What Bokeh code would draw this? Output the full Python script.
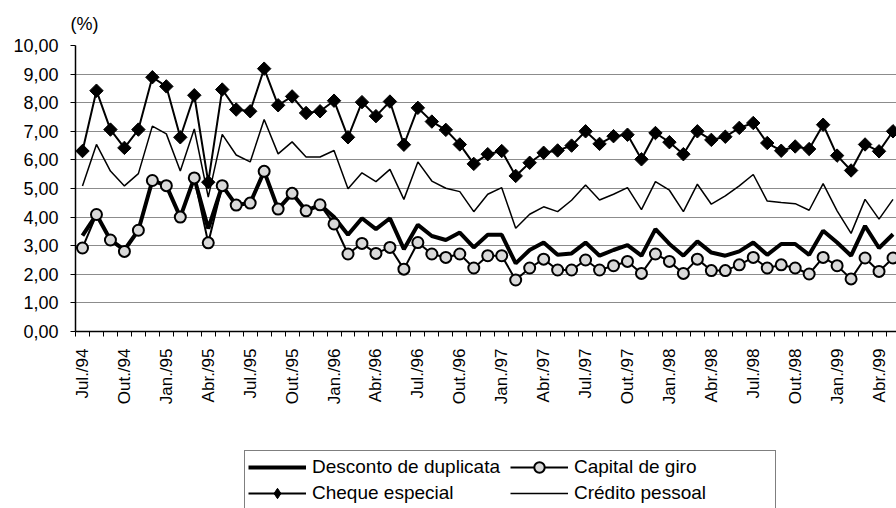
import numpy as np
from bokeh.plotting import figure
from bokeh.layouts import column
from bokeh.models import FixedTicker, Legend, LegendItem, Range1d, Title
from bokeh.embed import file_html
from bokeh.resources import INLINE

months = [
    "Jul./94", "Ago./94", "Set./94", "Out./94", "Nov./94", "Dez./94",
    "Jan./95", "Fev./95", "Mar./95", "Abr./95", "Mai./95", "Jun./95",
    "Jul./95", "Ago./95", "Set./95", "Out./95", "Nov./95", "Dez./95",
    "Jan./96", "Fev./96", "Mar./96", "Abr./96", "Mai./96", "Jun./96",
    "Jul./96", "Ago./96", "Set./96", "Out./96", "Nov./96", "Dez./96",
    "Jan./97", "Fev./97", "Mar./97", "Abr./97", "Mai./97", "Jun./97",
    "Jul./97", "Ago./97", "Set./97", "Out./97", "Nov./97", "Dez./97",
    "Jan./98", "Fev./98", "Mar./98", "Abr./98", "Mai./98", "Jun./98",
    "Jul./98", "Ago./98", "Set./98", "Out./98", "Nov./98", "Dez./98",
    "Jan./99", "Fev./99", "Mar./99", "Abr./99", "Mai./99",
]

x_tick_labels = ["Jul./94", "Out./94", "Jan./95", "Abr./95", "Jul./95", "Out./95",
                 "Jan./96", "Abr./96", "Jul./96", "Out./96", "Jan./97", "Abr./97",
                 "Jul./97", "Out./97", "Jan./98", "Abr./98", "Jul./98", "Out./98",
                 "Jan./99", "Abr./99"]

y_ticks = [0, 1, 2, 3, 4, 5, 6, 7, 8, 9, 10]
y_tick_labels = ["0,00", "1,00", "2,00", "3,00", "4,00", "5,00",
                 "6,00", "7,00", "8,00", "9,00", "10,00"]

desconto = [3.35, 4.09, 3.20, 2.85, 3.54, 5.28, 5.10, 4.00, 5.37, 3.60,
            5.10, 4.42, 4.49, 5.60, 4.28, 4.83, 4.22, 4.43, 4.00, 3.38,
            3.96, 3.58, 3.96, 2.88, 3.73, 3.34, 3.20, 3.46, 2.94, 3.38,
            3.38, 2.38, 2.85, 3.11, 2.68, 2.73, 3.11, 2.65, 2.85, 3.02,
            2.65, 3.58, 3.06, 2.65, 3.15, 2.76, 2.65, 2.80, 3.11, 2.68,
            3.06, 3.06, 2.68, 3.52, 3.11, 2.65, 3.69, 2.92, 3.40]

capital = [2.92, 4.09, 3.20, 2.80, 3.54, 5.28, 5.10, 4.00, 5.37, 3.10,
           5.10, 4.42, 4.49, 5.60, 4.28, 4.83, 4.22, 4.43, 3.76, 2.71,
           3.08, 2.73, 2.94, 2.18, 3.11, 2.71, 2.59, 2.71, 2.22, 2.65,
           2.65, 1.80, 2.22, 2.53, 2.15, 2.15, 2.50, 2.15, 2.30, 2.45,
           2.03, 2.71, 2.45, 2.03, 2.53, 2.13, 2.13, 2.33, 2.59, 2.22,
           2.33, 2.22, 2.01, 2.59, 2.30, 1.84, 2.57, 2.10, 2.57]

cheque = [6.31, 8.42, 7.06, 6.42, 7.06, 8.89, 8.57, 6.79, 8.26, 5.22,
          8.46, 7.76, 7.70, 9.19, 7.91, 8.22, 7.64, 7.70, 8.07, 6.79,
          8.02, 7.53, 8.04, 6.53, 7.82, 7.34, 7.05, 6.54, 5.86, 6.20,
          6.31, 5.44, 5.90, 6.25, 6.33, 6.50, 7.00, 6.56, 6.83, 6.88,
          6.02, 6.94, 6.62, 6.20, 7.00, 6.70, 6.81, 7.12, 7.29, 6.59,
          6.32, 6.47, 6.38, 7.23, 6.15, 5.63, 6.54, 6.30, 7.00]

credito = [5.09, 6.54, 5.61, 5.09, 5.52, 7.18, 6.91, 5.61, 7.08, 4.70,
           6.89, 6.17, 5.93, 7.41, 6.21, 6.63, 6.10, 6.10, 6.33, 4.99,
           5.55, 5.24, 5.67, 4.62, 5.93, 5.26, 5.01, 4.89, 4.19, 4.80,
           5.03, 3.61, 4.10, 4.36, 4.19, 4.59, 5.12, 4.60, 4.80, 5.03,
           4.26, 5.24, 4.94, 4.19, 5.15, 4.45, 4.74, 5.09, 5.49, 4.56,
           4.51, 4.47, 4.24, 5.17, 4.22, 3.43, 4.62, 3.93, 4.62]

series_names = ["Desconto de duplicata", "Cheque especial",
                "Capital de giro", "Crédito pessoal"]

FONT = "Liberation Sans"

x = list(range(len(months)))
tick_idx = [months.index(t) for t in x_tick_labels]

# ---------------- main chart ----------------
p = figure(width=896, height=440, output_backend="svg", toolbar_location=None,
           x_range=Range1d(-0.5, 58.25), y_range=Range1d(0, 10),
           min_border_left=75, min_border_right=0, min_border_top=44,
           min_border_bottom=109)
p.background_fill_color = "white"
p.border_fill_color = "white"
p.outline_line_color = None

p.title = Title(text="(%)", text_font=FONT, text_font_size="18px",
                text_font_style="normal", text_color="black", align="left",
                offset=-5, standoff=23)

p.yaxis.ticker = FixedTicker(ticks=y_ticks)
p.yaxis.major_label_overrides = {t: l for t, l in zip(y_ticks, y_tick_labels)}
p.yaxis.major_label_text_font = FONT
p.yaxis.major_label_text_font_size = "18px"
p.yaxis.major_label_text_color = "black"
p.yaxis.axis_line_color = "black"
p.yaxis.axis_line_width = 1.5
p.yaxis.major_tick_out = 5
p.yaxis.major_tick_in = 0
p.yaxis.major_tick_line_color = "black"
p.yaxis.minor_tick_line_color = None
p.yaxis.major_label_standoff = 12

p.xaxis.ticker = FixedTicker(ticks=tick_idx,
                             minor_ticks=[i - 0.5 for i in range(len(months) + 1)])
p.xaxis.major_label_overrides = {i: months[i] for i in tick_idx}
p.xaxis.major_label_orientation = np.pi / 2
p.xaxis.major_label_text_font = FONT
p.xaxis.major_label_text_font_size = "17px"
p.xaxis.major_label_text_color = "black"
p.xaxis.axis_line_color = "black"
p.xaxis.axis_line_width = 1.5
p.xaxis.major_tick_out = 0
p.xaxis.major_tick_in = 0
p.xaxis.minor_tick_out = 5
p.xaxis.minor_tick_in = 0
p.xaxis.minor_tick_line_color = "black"
p.xaxis.major_label_standoff = 12

p.xgrid.grid_line_color = None
p.ygrid.grid_line_color = "#8c8c8c"
p.ygrid.grid_line_width = 1

p.line(x, credito, line_color="black", line_width=1.5)
p.line(x, desconto, line_color="black", line_width=4)
p.line(x, capital, line_color="black", line_width=2)
p.scatter(x, capital, marker="circle", size=11, fill_color="#d9d9d9",
          line_color="black", line_width=2)
p.line(x, cheque, line_color="black", line_width=2)
p.scatter(x, cheque, marker="square", angle=np.pi / 4, size=9.5,
          fill_color="black", line_color="black")

# ---------------- legend strip ----------------
p2 = figure(width=896, height=68, output_backend="svg", toolbar_location=None,
            x_axis_location=None, y_axis_location=None,
            min_border_left=0, min_border_right=0, min_border_top=0,
            min_border_bottom=0)
p2.grid.visible = False
p2.outline_line_color = None
p2.background_fill_color = "white"
p2.border_fill_color = "white"

k_desc = p2.line(x, desconto, line_color="black", line_width=4, visible=False)
k_chq_l = p2.line(x, cheque, line_color="black", line_width=2, visible=False)
k_chq_m = p2.scatter(x, cheque, marker="diamond", size=14, fill_color="black",
                     line_color="black", visible=False)
k_cap_l = p2.line(x, capital, line_color="black", line_width=2, visible=False)
k_cap_m = p2.scatter(x, capital, marker="circle", size=11, fill_color="#d9d9d9",
                     line_color="black", line_width=2, visible=False)
k_cred = p2.line(x, credito, line_color="black", line_width=1.5, visible=False)

legend = Legend(items=[
    LegendItem(label=series_names[0], renderers=[k_desc]),
    LegendItem(label=series_names[1], renderers=[k_chq_l, k_chq_m]),
    LegendItem(label=series_names[2], renderers=[k_cap_l, k_cap_m]),
    LegendItem(label=series_names[3], renderers=[k_cred]),
], ncols=2)
legend.location = (169, -2)
legend.label_text_font = FONT
legend.label_text_font_size = "19px"
legend.label_text_color = "black"
legend.glyph_width = 58
legend.glyph_height = 26
legend.label_height = 26
legend.label_width = 198
legend.label_standoff = 6
legend.spacing = 0
legend.padding = 3
legend.margin = 0
legend.border_line_color = "black"
legend.border_line_width = 1
legend.background_fill_color = "white"
legend.background_fill_alpha = 1
legend.inactive_fill_alpha = 0
p2.add_layout(legend)

layout = column(p, p2, spacing=0)
open("out.html", "w").write(file_html(layout, INLINE))
